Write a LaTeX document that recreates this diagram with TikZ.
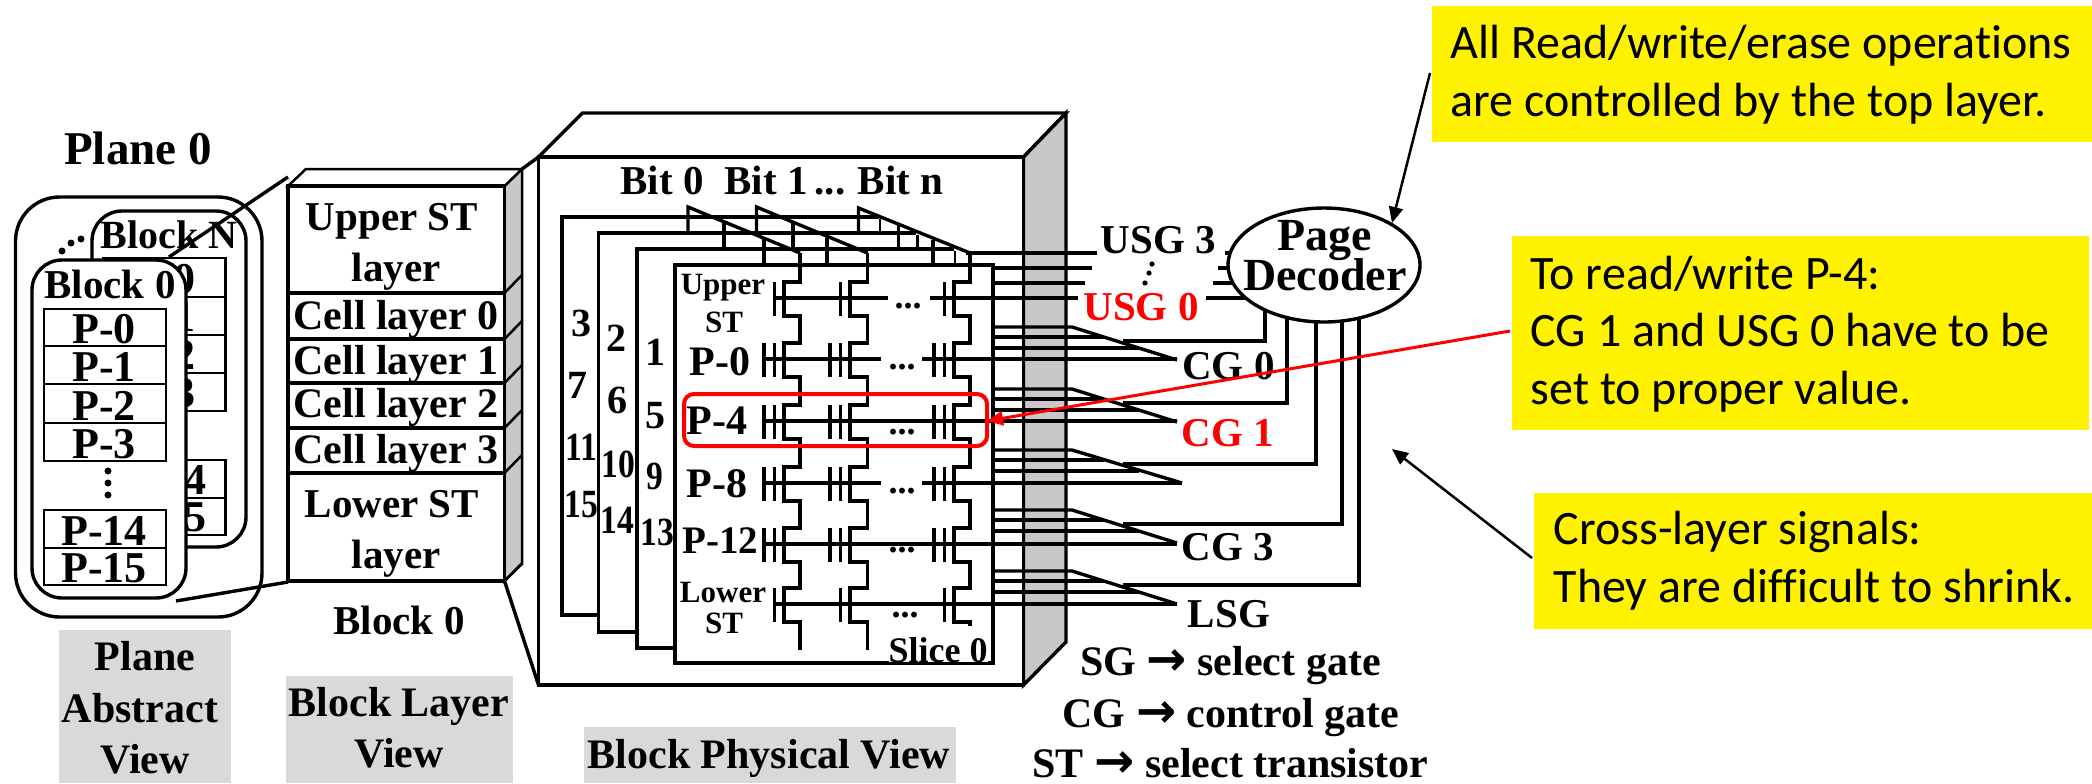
\documentclass[tikz,border=0pt]{standalone}
\usepackage{fontspec}
\setmainfont{Liberation Serif}
\newfontfamily\calib[Ligatures=NoCommon]{Carlito}
\newfontfamily\djv{DejaVu Sans}
\usetikzlibrary{shapes.geometric,arrows.meta}
\definecolor{sidegray}{HTML}{C8C8C8}
\definecolor{labgray}{HTML}{D9D9D9}
\newcommand{\legarrow}{{\djv\bfseries\fontsize{24}{24}\selectfont →}}
\tikzset{
  tx/.style={anchor=base,inner sep=0pt,font=\fontsize{#1}{#1}\selectfont\bfseries},
  redtx/.style={tx=#1,text=red},
  thin line/.style={line width=1.25pt},
  main line/.style={line width=1.7pt},
  nar/.style={tx=20,xscale=.84,transform shape},
  yel/.style={fill=yellow,draw=none,inner sep=0pt,anchor=north west,minimum width=#1},
  note/.style={anchor=base west,inner sep=0pt,align=left,font=\calib\fontsize{24}{28.6}\selectfont},
  lead/.style={line width=1.25pt,-{Triangle[length=8pt,width=7pt]}}
}
\begin{document}
\begin{tikzpicture}[x=0.5pt,y=-0.5pt,main line]
\useasboundingbox (0,0) rectangle (2092,783);
% --- plane view
\node[tx=23.5] (plane) at (138,164) {Plane 0};
\draw[main line,rounded corners=22pt] (15.5,197) rectangle (262,617);
\draw[main line,rounded corners=15pt,fill=white] (92,211) rectangle (246,547);
\node[tx=20] (bn) at (169,248) {Block N};
\foreach \t/\b/\s [count=\i] in {258/297/P-0,297/335/P-1,335/373/P-2,373/411/P-3,460/498/P-14,498/535/P-15}{
  \draw[thin line] (103,\t) rectangle (225.5,\b);
  \node[tx=22] (n\i) at (164,\b-4) {\s};
}
\draw[main line,rounded corners=15pt,fill=white] (32,260) rectangle (186,598);
\node[tx=20.5] (b0) at (110,298) {Block 0};
\foreach \t/\b/\s [count=\i] in {309/346/P-0,346/384/P-1,384/423/P-2,423/461/P-3,510/548/P-14,548/585/P-15}{
  \draw[thin line] (44,\t) rectangle (166,\b);
  \node[tx=22] (p\i) at (104,\b-3) {\s};
}
\foreach \p in {(108,471),(108,483),(108,495),(62,251),(71,243),(81,239)}
  \fill \p circle (3.5);
\coordinate (lt) at (288,177); \coordinate (lb) at (288,582);
\draw[main line] (lt) -- (169,257);
\draw[main line] (lb) -- (176,601);
% --- layer view
\draw[thin line,fill=sidegray] (504.5,186) -- (522,169) -- (522,564) -- (504.5,581) -- cycle;
\draw[thin line,fill=white] (288,186) -- (306,169) -- (522,169) -- (504.5,186) -- cycle;
\foreach \t/\b in {186/293,293/339,339/383,383/428,428/473,473/581}{
  \draw[main line,fill=white] (288,\t) rectangle (504.5,\b);
  \draw[thin line] (504.5,\b) -- (522,\b-18);
}
\node[tx=20.5] (u1) at (392,230) {Upper ST};
\node[tx=20.5] (u2) at (396,281) {layer};
\node[tx=21] (c0) at (396,329) {Cell layer 0};
\node[tx=21] (c1) at (396,374) {Cell layer 1};
\node[tx=21] (c2) at (396,417) {Cell layer 2};
\node[tx=21] (c3) at (396,463) {Cell layer 3};
\node[tx=20.5] (l1) at (392,517) {Lower ST};
\node[tx=20.5] (l2) at (396,568) {layer};
\node[tx=20.5] (blk) at (399,634) {Block 0};
\draw[main line] (522,169) -- (538.5,157);
\draw[main line] (504.5,581) -- (538.5,685);
% --- gray captions
\fill[labgray] (59,630) rectangle (231,783);
\node[tx=21] (pa1) at (145,670) {Plane};
\node[tx=21] (pa2) at (140,722) {Abstract};
\node[tx=21] (pa3) at (145,773) {View};
\fill[labgray] (286,676) rectangle (513,783);
\node[tx=21] (bl1) at (399,716) {Block Layer};
\node[tx=21] (bl2) at (399,767) {View};
\fill[labgray] (584,727) rectangle (956,783);
\node[tx=21] (bp) at (769,768) {Block Physical View};
% --- physical box
\draw[main line,fill=white] (538.5,157) -- (582.5,113) -- (1066,113) -- (1023.5,157) -- cycle;
\draw[main line,fill=sidegray] (1023.5,157) -- (1066,113) -- (1066,642) -- (1023.5,685) -- cycle;
\draw[main line,fill=white] (538.5,157) rectangle (1023.5,685);
\node[tx=20.5] (bit0) at (662,194) {Bit 0};
\node[tx=20.5] (bit1) at (785,194) {Bit 1\,...};
\node[tx=20.5] (bitn) at (900.5,194) {Bit n};
% slices
\draw (879,217) -- (562,217) -- (562,615) -- (598.5,615);
\draw (916,233) -- (598.5,233) -- (598.5,632) -- (637,632);
\draw (954,249) -- (637,249) -- (637,648) -- (675,648);
% bit line tops
\draw (688,232) -- (688,207) -- (800,253);
\draw (724,248) -- (724,222);
\draw (764,264) -- (764,238);
\draw (756.5,232) -- (756.5,207) -- (867.5,253);
\draw (793,248) -- (793,222);
\draw (827,264) -- (827,238);
\draw (858.5,232) -- (858.5,208) -- (970,253);
\draw[thin line] (880,232) -- (880,219);
\draw (898.5,248) -- (898.5,224);
\draw[thin line] (917.5,248) -- (917.5,235);
\draw (933,264) -- (933,240);
\draw[thin line] (955,264) -- (955,251);
\draw (675,265) rectangle (993,663);
\foreach \n/\x/\y in {3/581/336,2/616.5/351,1/655/365,7/577/398,6/617/413,5/655/428}
  \node[tx=20] (s\n) at (\x,\y) {\n};
\foreach \n/\x/\y in {11/581/460,10/618/477,9/655/489,15/581/517,14/617.5/533,13/657.5/545}
  \node[nar] (s\n) at (\x,\y) {\n};
% rails and channels
\foreach \r/\c/\e in {800/784/650,867.5/850/650,970/954/626}
  \draw[line join=miter] (\r,253) foreach \w in {298,359,421,483,544,604}
     { -- (\r,\w-16) -- (\c,\w-16) -- (\c,\w+18) -- (\r,\w+18) } -- (\r,\e);
% gates
\foreach \c in {784,850,954}{
  \foreach \w in {298,604}
    \draw (\c-9.5,\w-16) -- (\c-9.5,\w+18);
  \foreach \w in {359,421,483,544}{
    \draw (\c-9.5,\w-16) -- (\c-9.5,\w+18);
    \draw (\c-20,\w-16) -- (\c-20,\w+18);
  }
}
% word lines
\draw (773,298) -- (888,298) (930,298) -- (1078,298);
\draw (763,359) -- (881,359) (922,359) -- (1177,359);
\draw (763,421) -- (1177,421);
\draw (763,483) -- (881,483) (922,483) -- (1182,483);
\draw (763,544) -- (1177,544);
\draw (773,604) -- (1177,604);
% dots in rows
\foreach \x/\y [count=\i] in {908/308,902/369,902/434,902/493,902/552,905/617}
  \node[tx=18] (dots\i) at (\x,\y) {...};
% slice labels
\node[tx=15.5] (up1) at (723,294) {Upper};
\node[tx=15.5] (up2) at (724,332) {ST};
\node[tx=21] (r0) at (720,375) {P-0};
\node[tx=21] (r4) at (717,434) {P-4};
\node[tx=21] (r8) at (717,497) {P-8};
\node[tx=19.5] (r12) at (720.5,553) {P-12};
\node[tx=15.5] (lo1) at (723,602) {Lower};
\node[tx=15.5] (lo2) at (724,633) {ST};
\node[tx=18,fill=white] (sl0) at (938,662) {Slice 0};
% USG wires
\draw (966,253) -- (1097,253);
\draw (993,268) -- (1092,268);
\draw (993,283) -- (1085,283);
\draw (1206,298) -- (1300,298);
\draw (1213,283) -- (1300,283);
\draw (1218,268) -- (1300,268);
\draw (1225,253) -- (1300,253);
% CG wire groups
\foreach \w/\e/\v in {360/1177/1265,422/1177/1287,483/1182/1316,543/1177/1342,604/1177/1359}{
  \draw[line join=miter] (993,\w-33) -- (1072,\w-33) -- (\e,\w);
  \draw (993,\w-23) -- (1104,\w-23);
  \draw (993,\w-12) -- (1139,\w-12);
  \draw (1123,\w-19) -- (\v,\w-19) -- (\v,300);
}
% labels on wires
\node[tx=20.5] (usg3) at (1158.5,253) {USG 3};
\node[redtx=20.5] (usg0) at (1141,320) {USG 0};
\node[tx=20.5] (cg0) at (1228.5,379) {CG 0};
\node[redtx=20.5] (cg1) at (1228,446) {CG 1};
\node[tx=20.5] (cg3) at (1228,560) {CG 3};
\node[tx=20.5] (lsg) at (1229,627) {LSG};
\foreach \p in {(1152,264),(1149,273),(1145,283)}
  \fill \p circle (2.6);
% decoder
\node[ellipse,draw,main line,fill=white,minimum width=96pt,minimum height=57pt,inner sep=0pt] (dec) at (1324,265) {};
\node[tx=23] (dec1) at (1325,250) {Page};
\node[tx=23] (dec2) at (1325,290) {Decoder};
% legend
\node[tx=21] (lg1) at (1230.5,675) {SG \legarrow{} select gate};
\node[tx=21] (lg2) at (1231,727) {CG \legarrow{} control gate};
\node[tx=21] (lg3) at (1230.5,777) {ST \legarrow{} select transistor};
% yellow notes
\node[yel=331pt,minimum height=68pt] (ya) at (1430,4) {};
\node[note] (ta) at (1449,116) {All Read/write/erase operations\\are controlled by the top layer.};
\node[yel=288.5pt,minimum height=97pt] (yb) at (1510,234) {};
\node[note] (tb) at (1529,404) {To read/write P-4:\\CG 1 and USG 0 have to be\\set to proper value.};
\node[yel=280pt,minimum height=68pt] (yc) at (1532,491) {};
\node[note] (tc) at (1552,602) {Cross-layer signals:\\They are difficult to shrink.};
% red frame and arrows
\draw[red,line width=2pt,rounded corners=5pt] (684,394) rectangle (987,446);
\coordinate (aa) at (1430,73); \coordinate (ab) at (1510,331); \coordinate (ac) at (1532,558);
\coordinate (ra) at (987,421); \coordinate (rb) at (1392,223); \coordinate (rc) at (1392,449);
\draw[lead] (aa) -- (rb);
\draw[lead] (ac) -- (rc);
\draw[lead,red,line width=1.5pt] (ab) -- (ra);
\end{tikzpicture}
\end{document}
